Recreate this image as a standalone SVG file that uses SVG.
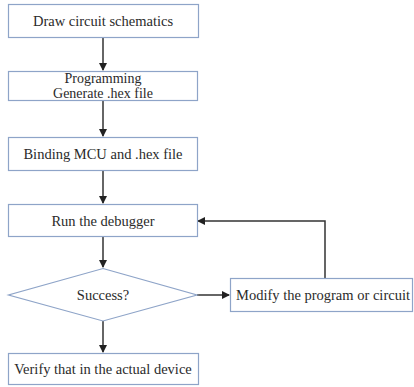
<svg xmlns="http://www.w3.org/2000/svg" width="414" height="387" viewBox="0 0 414 387">
<style>
.box{fill:#fff;stroke:#8ea4c8;stroke-width:1.2}
.t{font-family:'Liberation Serif','Times New Roman','DejaVu Serif',serif;font-size:14.5px;fill:#2a2a2a;text-anchor:middle}
.ts{font-family:'Liberation Serif','Times New Roman','DejaVu Serif',serif;font-size:14.5px;fill:#2a2a2a;text-anchor:start}
.c{fill:none;stroke:#333;stroke-width:1.5}
</style>
<defs>
<marker id="ah" markerWidth="8" markerHeight="8" refX="7" refY="4" orient="auto" markerUnits="userSpaceOnUse">
<path d="M0,0 L8,4 L0,8 Z" fill="#222"/>
</marker>
</defs>
<rect width="414" height="387" fill="#fff"/>
<g id="connectors">
<line class="c" x1="103" y1="38" x2="103" y2="70" marker-end="url(#ah)"/>
<line class="c" x1="103" y1="100" x2="103" y2="136" marker-end="url(#ah)"/>
<line class="c" x1="103" y1="171" x2="103" y2="203" marker-end="url(#ah)"/>
<line class="c" x1="103" y1="237" x2="103" y2="267" marker-end="url(#ah)"/>
<line class="c" x1="103" y1="321" x2="103" y2="352" marker-end="url(#ah)"/>
<line class="c" x1="197" y1="295" x2="229" y2="295" marker-end="url(#ah)"/>
<polyline class="c" points="325,278 325,221 198,221" marker-end="url(#ah)"/>
</g>
<g id="n1"><rect class="box" x="8.5" y="4.5" width="190" height="33"/><text class="t" x="103" y="26">Draw circuit schematics</text></g>
<g id="n2"><rect class="box" x="8.5" y="71.5" width="189" height="29"/><text class="t" x="103" y="83" style="font-size:14px">Programming</text><text class="t" x="103" y="97.5" style="font-size:14px">Generate .hex file</text></g>
<g id="n3"><rect class="box" x="8.5" y="137.5" width="189" height="33"/><text class="t" x="103" y="159">Binding MCU and .hex file</text></g>
<g id="n4"><rect class="box" x="8.5" y="204.5" width="189" height="32"/><text class="t" x="103" y="225.5">Run the debugger</text></g>
<g id="n5"><polygon class="box" points="103,268.5 197,295 103,321 8.5,295"/><text class="t" x="103" y="300">Success?</text></g>
<g id="n6"><rect class="box" x="230.5" y="278.5" width="182" height="33"/><text class="ts" x="236" y="300">Modify the program or circuit</text></g>
<g id="n7"><rect class="box" x="8.5" y="353.5" width="190" height="31"/><text class="t" x="103" y="374">Verify that in the actual device</text></g>
</svg>
